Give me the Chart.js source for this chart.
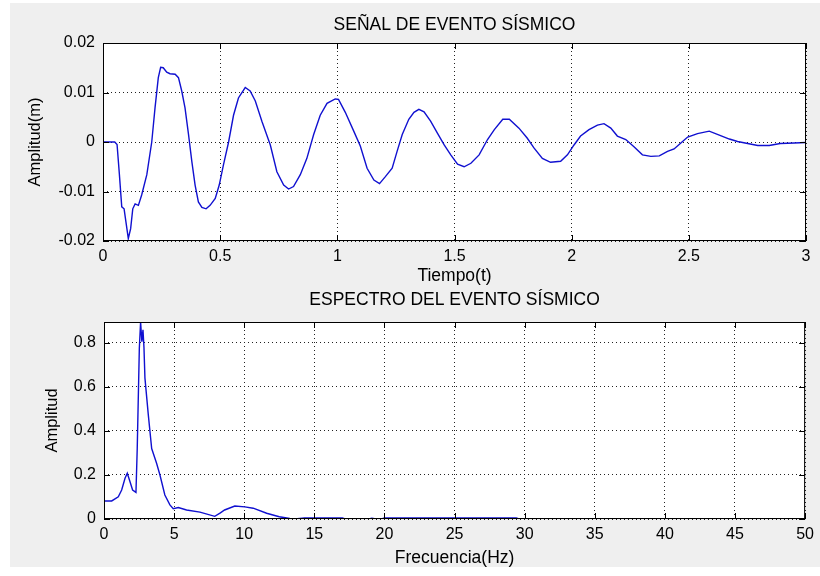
<!DOCTYPE html>
<html>
<head>
<meta charset="utf-8">
<script src="https://cdn.jsdelivr.net/npm/chart.js@4.4.1/dist/chart.umd.min.js"></script>
<style>
  html, body { margin: 0; padding: 0; background: #fff; }
  #panel { position: absolute; left: 10px; top: 3px; width: 810px; height: 564px; background: #efefef; }
  canvas { position: absolute; left: 0; }
  #senal { top: 0; }
  #espectro { top: 288px; }
</style>
</head>
<body>
<div id="panel"></div>
<canvas id="senal" width="820" height="288"></canvas>
<canvas id="espectro" width="820" height="288"></canvas>
<script>
// señal sísmica (tiempo en s, amplitud en m)
const tiempo = [0, 0.05, 0.06, 0.07, 0.08, 0.09, 0.098, 0.108, 0.118, 0.127, 0.137, 0.151, 0.165, 0.187,
  0.208, 0.222, 0.236, 0.246, 0.257, 0.272, 0.286, 0.308, 0.322, 0.336, 0.35, 0.365, 0.379, 0.393, 0.407,
  0.422, 0.44, 0.457, 0.479, 0.496, 0.514, 0.536, 0.557, 0.578, 0.607, 0.628, 0.65, 0.678, 0.714, 0.742,
  0.771, 0.792, 0.813, 0.842, 0.87, 0.899, 0.927, 0.956, 0.991, 1.005, 1.034, 1.07, 1.098, 1.127, 1.156,
  1.18, 1.205, 1.234, 1.255, 1.277, 1.305, 1.327, 1.348, 1.37, 1.398, 1.427, 1.456, 1.484, 1.513, 1.541,
  1.57, 1.605, 1.641, 1.67, 1.706, 1.734, 1.775, 1.81, 1.839, 1.875, 1.91, 1.953, 1.982, 2.01, 2.038,
  2.074, 2.11, 2.138, 2.167, 2.195, 2.231, 2.267, 2.302, 2.338, 2.374, 2.409, 2.437, 2.466, 2.495, 2.537,
  2.587, 2.63, 2.673, 2.708, 2.751, 2.794, 2.843, 2.89, 2.95, 3.0];
const amplitud = [0, 0, -0.0005, -0.0066, -0.0131, -0.0135, -0.0162, -0.0195, -0.0175, -0.0135, -0.0125, -0.0128, -0.0107, -0.0066,
  0, 0.0069, 0.013, 0.0151, 0.015, 0.0141, 0.0138, 0.0137, 0.013, 0.0103, 0.0069, 0.0015, -0.0039, -0.0087, -0.0121,
  -0.0132, -0.0135, -0.0128, -0.0114, -0.0087, -0.0046, 0, 0.0054, 0.0089, 0.011, 0.0103, 0.0083, 0.0042, -0.0006, -0.006,
  -0.0087, -0.0095, -0.009, -0.0066, -0.0033, 0.0015, 0.0054, 0.0078, 0.0087, 0.0086, 0.006, 0.0022, -0.0008, -0.0053, -0.0077,
  -0.0084, -0.007, -0.0053, -0.0019, 0.0015, 0.0046, 0.006, 0.0066, 0.0061, 0.0042, 0.0018, -0.0006, -0.0026, -0.0045, -0.005,
  -0.0043, -0.0026, 0.0005, 0.0025, 0.0046, 0.0046, 0.0028, 0.0008, -0.0012, -0.0033, -0.0041, -0.0039, -0.0026, -0.0006, 0.0012,
  0.0025, 0.0034, 0.0037, 0.0028, 0.0012, 0.0005, -0.001, -0.0026, -0.0029, -0.0028, -0.0019, -0.0014, -0.0002, 0.001, 0.0017,
  0.0022, 0.0014, 0.0006, 0.0001, -0.0003, -0.0007, -0.0007, -0.0003, -0.0002, -0.0001];

// espectro (frecuencia en Hz)
const frecuencia = [0, 0.55, 1.02, 1.26, 1.5, 1.66, 1.85, 2.04, 2.28, 2.37, 2.52, 2.61, 2.7, 2.78, 2.85, 2.92,
  3.16, 3.4, 3.75, 3.99, 4.34, 4.7, 4.94, 5.3, 5.89, 6.84, 7.9, 8.3, 8.6, 9.33, 10.04, 10.64, 11.6, 12.5, 13.25,
  13.6, 14.3, 17.0, 17.2, 18.9, 19.1, 19.4, 19.8, 20.0, 29.4, 29.6, 50];
const espectro = [0.082, 0.082, 0.101, 0.132, 0.185, 0.208, 0.17, 0.132, 0.121, 0.32, 0.776, 0.895, 0.806, 0.86, 0.78, 0.64,
  0.473, 0.32, 0.253, 0.2, 0.109, 0.064, 0.047, 0.052, 0.041, 0.031, 0.012, 0.028, 0.041, 0.059, 0.055, 0.049, 0.026, 0.01, 0.002,
  0, 0.005, 0.005, 0, 0, 0.004, 0, 0, 0.005, 0.005, 0, 0];

const ticksTiempo = [0, 0.5, 1, 1.5, 2, 2.5, 3];
const ticksAmplitud = [-0.02, -0.01, 0, 0.01, 0.02];
const ticksFrecuencia = [0, 5, 10, 15, 20, 25, 30, 35, 40, 45, 50];
const ticksEspectro = [0, 0.2, 0.4, 0.6, 0.8];

Chart.defaults.font.family = "'Liberation Sans', Arial, sans-serif";
Chart.defaults.font.size = 16;
Chart.defaults.color = '#000';

const labelFont = {size: 17.5, weight: 'normal'};

// white axes background, black box and inward ticks like matlab
const matlabBox = {
  id: 'matlabBox',
  beforeDraw(chart) {
    const {ctx, chartArea: a} = chart;
    ctx.save();
    ctx.fillStyle = '#fff';
    ctx.fillRect(a.left, a.top, a.right - a.left, a.bottom - a.top);
    ctx.restore();
  },
  afterDraw(chart) {
    const {ctx, chartArea: a, scales} = chart;
    ctx.save();
    ctx.strokeStyle = '#000';
    ctx.lineWidth = 1;
    ctx.strokeRect(a.left + 0.5, a.top + 0.5, a.right - a.left - 1, a.bottom - a.top - 1);
    ctx.beginPath();
    scales.x.ticks.forEach(t => {
      const px = Math.round(scales.x.getPixelForValue(t.value)) + 0.5;
      ctx.moveTo(px, a.bottom); ctx.lineTo(px, a.bottom - 6);
      ctx.moveTo(px, a.top); ctx.lineTo(px, a.top + 6);
    });
    scales.y.ticks.forEach(t => {
      const py = Math.round(scales.y.getPixelForValue(t.value)) + 0.5;
      ctx.moveTo(a.left, py); ctx.lineTo(a.left + 6, py);
      ctx.moveTo(a.right, py); ctx.lineTo(a.right - 6, py);
    });
    ctx.stroke();
    ctx.restore();
  }
};

function makeChart(id, xs, ys, o) {
  const pts = xs.map((x, i) => ({x: x, y: ys[i]}));
  return new Chart(document.getElementById(id), {
    type: 'line',
    data: {
      datasets: [{
        data: pts,
        borderColor: '#1010d0',
        borderWidth: 1.4,
        pointRadius: 0,
        tension: 0,
        fill: false
      }]
    },
    options: {
      responsive: false,
      animation: false,
      layout: {padding: {left: 0, right: 14, top: 0, bottom: 0}},
      plugins: {
        legend: {display: false},
        tooltip: {enabled: false},
        title: {
          display: true,
          text: o.title,
          fullSize: false,
          font: labelFont,
          padding: o.titlePad
        }
      },
      scales: {
        x: {
          type: 'linear',
          min: o.xTicks[0],
          max: o.xTicks[o.xTicks.length - 1],
          afterBuildTicks: s => { s.ticks = o.xTicks.map(v => ({value: v})); },
          afterFit: s => { s.height = o.xHeight; },
          ticks: {padding: 6, maxRotation: 0, autoSkip: false, callback: v => String(v)},
          grid: {color: '#222', lineWidth: 1, drawTicks: false},
          border: {display: false, dash: [1, 3]},
          title: {display: true, text: o.xTitle, font: labelFont, padding: {top: 0, bottom: o.xTitlePad}}
        },
        y: {
          type: 'linear',
          min: o.yMin,
          max: o.yMax,
          afterBuildTicks: s => { s.ticks = o.yTicks.map(v => ({value: v})); },
          afterFit: s => { s.width = o.yWidth; },
          ticks: {padding: 8, autoSkip: false, callback: v => String(v)},
          grid: {color: '#222', lineWidth: 1, drawTicks: false},
          border: {display: false, dash: [1, 3]},
          title: {display: true, text: o.yTitle, font: {size: 16.5, weight: 'normal'}, padding: {top: o.yTitlePad, bottom: 0}}
        }
      }
    },
    plugins: [matlabBox]
  });
}

makeChart('senal', tiempo, amplitud, {
  title: 'SEÑAL DE EVENTO SÍSMICO',
  titlePad: {top: 14.5, bottom: 7.5},
  xTicks: ticksTiempo, xHeight: 47, xTitle: 'Tiempo(t)', xTitlePad: 1.5,
  yTicks: ticksAmplitud, yMin: -0.02, yMax: 0.02, yWidth: 103,
  yTitle: 'Amplitud(m)', yTitlePad: 26
});

makeChart('espectro', frecuencia, espectro, {
  title: 'ESPECTRO DEL EVENTO SÍSMICO',
  titlePad: {top: 1.5, bottom: 11.5},
  xTicks: ticksFrecuencia, xHeight: 57, xTitle: 'Frecuencia(Hz)', xTitlePad: 7.5,
  yTicks: ticksEspectro, yMin: 0, yMax: 0.895, yWidth: 104,
  yTitle: 'Amplitud', yTitlePad: 43
});
</script>
</body>
</html>
